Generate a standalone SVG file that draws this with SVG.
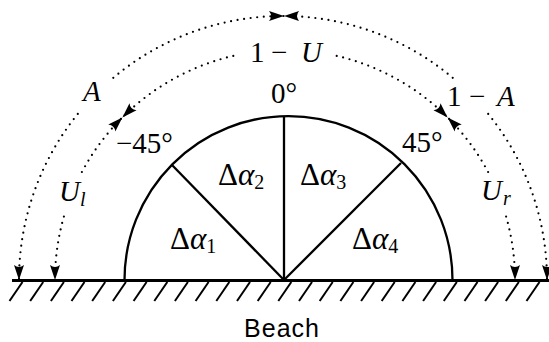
<svg xmlns="http://www.w3.org/2000/svg" width="549" height="342" viewBox="0 0 549 342">
<style>
.dot{fill:none;stroke:#000;stroke-width:2.2;stroke-linecap:round;stroke-dasharray:0 6.6;marker-end:url(#ah)}
.i{font-style:italic}
.s{font-size:20px}
.edge{fill:none;stroke:#000;stroke-width:2.3}
.hatch{stroke:#000;stroke-width:2;stroke-linecap:butt}
</style>
<defs>
<marker id="ah" markerUnits="userSpaceOnUse" viewBox="0 0 18 12" markerWidth="18" markerHeight="12" refX="16" refY="6" orient="auto">
<path d="M16,6 L1,1 Q5,6 1,11 Z" fill="#000"/>
</marker>
</defs>
<rect width="549" height="342" fill="#fff"/>

<g id="beach">
<line x1="12" y1="280.5" x2="549" y2="280.5" stroke="#000" stroke-width="3"/>
<g class="hatch">
<line x1="9.5" y1="301" x2="22.5" y2="282"/>
<line x1="30.2" y1="301" x2="43.2" y2="282"/>
<line x1="50.9" y1="301" x2="63.9" y2="282"/>
<line x1="71.5" y1="301" x2="84.5" y2="282"/>
<line x1="92.2" y1="301" x2="105.2" y2="282"/>
<line x1="112.9" y1="301" x2="125.9" y2="282"/>
<line x1="133.6" y1="301" x2="146.6" y2="282"/>
<line x1="154.3" y1="301" x2="167.3" y2="282"/>
<line x1="174.9" y1="301" x2="187.9" y2="282"/>
<line x1="195.6" y1="301" x2="208.6" y2="282"/>
<line x1="216.3" y1="301" x2="229.3" y2="282"/>
<line x1="237" y1="301" x2="250" y2="282"/>
<line x1="257.7" y1="301" x2="270.7" y2="282"/>
<line x1="278.3" y1="301" x2="291.3" y2="282"/>
<line x1="299" y1="301" x2="312" y2="282"/>
<line x1="319.7" y1="301" x2="332.7" y2="282"/>
<line x1="340.4" y1="301" x2="353.4" y2="282"/>
<line x1="361.1" y1="301" x2="374.1" y2="282"/>
<line x1="381.7" y1="301" x2="394.7" y2="282"/>
<line x1="402.4" y1="301" x2="415.4" y2="282"/>
<line x1="423.1" y1="301" x2="436.1" y2="282"/>
<line x1="443.8" y1="301" x2="456.8" y2="282"/>
<line x1="464.5" y1="301" x2="477.5" y2="282"/>
<line x1="485.1" y1="301" x2="498.1" y2="282"/>
<line x1="505.8" y1="301" x2="518.8" y2="282"/>
<line x1="526.5" y1="301" x2="539.5" y2="282"/>
</g>
<text x="282" y="336.5" text-anchor="middle" font-family="Liberation Sans, Arial, sans-serif" font-size="25" letter-spacing="1">Beach</text>
</g>

<g id="sector">
<path class="edge" d="M124.5,280 A164,164 0 0 1 452.5,280"/>
<line class="edge" x1="284" y1="280" x2="284" y2="116"/>
<line class="edge" x1="284" y1="280" x2="172" y2="165"/>
<line class="edge" x1="284" y1="280" x2="401" y2="163"/>
</g>

<g id="connectors">
<path class="dot" d="M77.8,113.9 A264,264 0 0 0 19,280"/>
<path class="dot" d="M113.3,77.8 A264,264 0 0 1 284,16"/>
<path class="dot" d="M452.7,77.8 A264,264 0 0 0 284,16"/>
<path class="dot" d="M488.2,113.9 A264,264 0 0 1 547,280"/>
<path class="dot" d="M233.3,55.9 A230,230 0 0 0 122.4,117.4"/>
<path class="dot" d="M81.9,172 A230,230 0 0 1 122.4,117.4"/>
<path class="dot" d="M63.9,216.6 A230,230 0 0 0 55,280"/>
<path class="dot" d="M336.7,55.9 A230,230 0 0 1 447.6,117.4"/>
<path class="dot" d="M488.1,172 A230,230 0 0 0 447.6,117.4"/>
<path class="dot" d="M506.1,216.6 A230,230 0 0 1 515,280"/>
</g>

<g id="labels" font-family="Liberation Serif, Times New Roman, serif" font-size="29" fill="#000">
<text y="62"><tspan x="250">1</tspan><tspan x="271">−</tspan><tspan x="301" class="i">U</tspan></text>
<text y="105.5"><tspan x="447">1</tspan><tspan x="469">−</tspan><tspan x="497" class="i">A</tspan></text>
<text x="83" y="101" class="i">A</text>
<text x="271" y="103">0°</text>
<text x="116" y="153">−45°</text>
<text x="402" y="152">45°</text>
<text y="201"><tspan x="59" class="i">U</tspan><tspan x="80" dy="5" class="i s">l</tspan></text>
<text y="200"><tspan x="481" class="i">U</tspan><tspan x="503" dy="5" class="i s">r</tspan></text>
<text y="249" font-size="31"><tspan x="170">Δ</tspan><tspan class="i">α</tspan><tspan dy="4" class="s">1</tspan></text>
<text y="185" font-size="31"><tspan x="218">Δ</tspan><tspan class="i">α</tspan><tspan dy="4" class="s">2</tspan></text>
<text y="185" font-size="31"><tspan x="300">Δ</tspan><tspan class="i">α</tspan><tspan dy="4" class="s">3</tspan></text>
<text y="249" font-size="31"><tspan x="352">Δ</tspan><tspan class="i">α</tspan><tspan dy="4" class="s">4</tspan></text>
</g>
</svg>
